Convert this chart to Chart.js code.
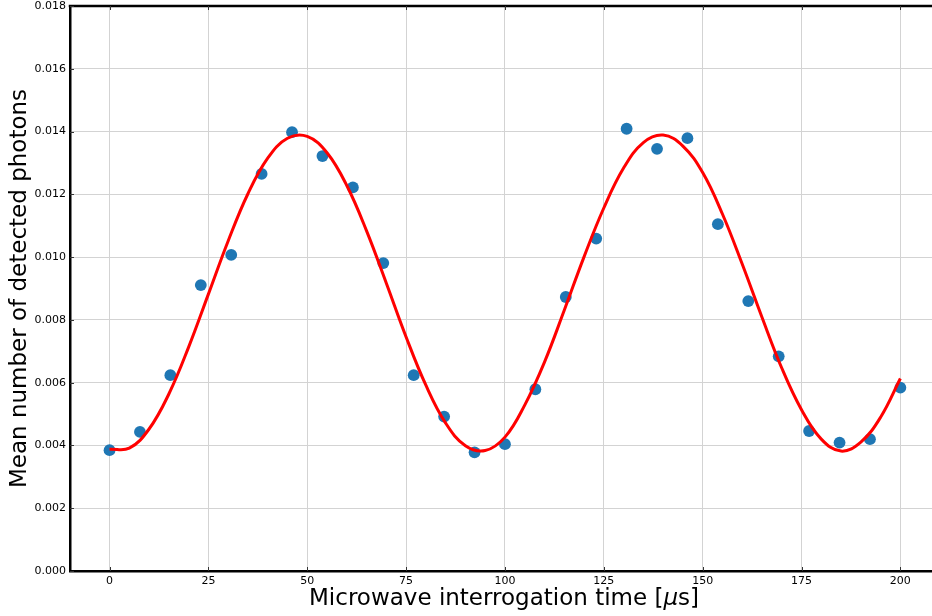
<!DOCTYPE html>
<html>
<head>
<meta charset="utf-8">
<script src="https://cdn.jsdelivr.net/npm/chart.js@4"></script>
<style>
html,body{margin:0;padding:0;background:#fff;}
#wrap{width:932px;height:616px;}
</style>
</head>
<body>
<div id="wrap"><canvas id="c" width="932" height="616"></canvas></div>
<script>
// Tick values
const xTicks = [0, 25, 50, 75, 100, 125, 150, 175, 200];
const yTicks = [0, 0.002, 0.004, 0.006, 0.008, 0.010, 0.012, 0.014, 0.016, 0.018];

// Measured data (scatter)
const timeUs = [0, 7.69, 15.38, 23.08, 30.77, 38.46, 46.15, 53.85, 61.54, 69.23, 76.92, 84.62, 92.31, 100,
  107.69, 115.38, 123.08, 130.77, 138.46, 146.15, 153.85, 161.54, 169.23, 176.92, 184.62, 192.31, 200];
const photons = [0.00385, 0.00443, 0.00624, 0.00911, 0.01007, 0.01265, 0.01398, 0.01322, 0.01222, 0.00981,
  0.00624, 0.00492, 0.00378, 0.00404, 0.00579, 0.00873, 0.01059, 0.01409, 0.01345, 0.01379, 0.01105,
  0.00860, 0.00684, 0.00446, 0.00409, 0.00420, 0.00584];

// Fit curve
const fitTime = [0, 5, 10, 15, 20, 25, 30, 35, 40, 45, 50, 55, 60, 65, 70, 75, 80, 85, 90, 95, 100,
  105, 110, 115, 120, 125, 130, 135, 140, 145, 150, 155, 160, 165, 170, 175, 180, 185, 190, 195, 200];
const fitPhotons = [0.003877, 0.003913, 0.004524, 0.005639, 0.007132, 0.008821, 0.010515, 0.012019, 0.013151,
  0.013785, 0.013845, 0.013324, 0.012280, 0.010836, 0.009168, 0.007456, 0.005918, 0.004711, 0.003993,
  0.003837, 0.004265, 0.005286, 0.006656, 0.008307, 0.010008, 0.011565, 0.012836, 0.013649, 0.013887,
  0.013538, 0.012693, 0.011373, 0.009779, 0.008084, 0.006467, 0.005137, 0.004202, 0.003820, 0.004109,
  0.004900, 0.006134];

const xTitleMain = 'Microwave interrogation time [';
const xTitleMu = 'μ';
const xTitleEnd = 's]';
const yTitle = 'Mean number of detected photons';

const FONT = "'DejaVu Sans', sans-serif";

const framePlugin = {
  id: 'frame',
  afterDraw(chart) {
    const ctx = chart.ctx;
    const a = chart.chartArea;
    const xs = chart.scales.x, ys = chart.scales.y;
    ctx.save();
    // top spine
    ctx.strokeStyle = '#000';
    ctx.lineWidth = 2.5;
    ctx.beginPath();
    ctx.moveTo(a.left - 1.25, a.top);
    ctx.lineTo(chart.width, a.top);
    ctx.stroke();
    // inward tick marks
    ctx.lineWidth = 1;
    ctx.strokeStyle = '#333';
    xs.ticks.forEach(t => {
      const px = Math.round(xs.getPixelForValue(t.value)) + 0.5;
      ctx.beginPath();
      ctx.moveTo(px, a.bottom); ctx.lineTo(px, a.bottom - 4);
      ctx.moveTo(px, a.top); ctx.lineTo(px, a.top + 4);
      ctx.stroke();
    });
    ys.ticks.forEach(t => {
      const py = Math.round(ys.getPixelForValue(t.value)) + 0.5;
      ctx.beginPath();
      ctx.moveTo(a.left, py); ctx.lineTo(a.left + 4, py);
      ctx.stroke();
    });
    // x axis title with italic mu
    ctx.fillStyle = '#000';
    ctx.textBaseline = 'middle';
    ctx.textAlign = 'left';
    const normal = "23px " + FONT;
    const ital = "italic 23px " + FONT;
    ctx.font = normal;
    const w1 = ctx.measureText(xTitleMain).width;
    const w3 = ctx.measureText(xTitleEnd).width;
    ctx.font = ital;
    const w2 = ctx.measureText(xTitleMu).width;
    const total = w1 + w2 + w3;
    const cx = (a.left + a.right) / 2 + 3;
    let x0 = cx - total / 2;
    const y0 = 599;
    ctx.font = normal; ctx.fillText(xTitleMain, x0, y0);
    ctx.font = ital; ctx.fillText(xTitleMu, x0 + w1, y0);
    ctx.font = normal; ctx.fillText(xTitleEnd, x0 + w1 + w2, y0);
    ctx.restore();
  }
};

new Chart(document.getElementById('c'), {
  type: 'scatter',
  data: {
    datasets: [
      {
        type: 'line',
        label: 'Fit',
        data: fitTime.map((t, i) => ({x: t, y: fitPhotons[i]})),
        borderColor: '#ff0000',
        borderWidth: 3,
        pointRadius: 0,
        fill: false,
        tension: 0.4,
        order: 0
      },
      {
        label: 'Data',
        data: timeUs.map((t, i) => ({x: t, y: photons[i]})),
        backgroundColor: '#1f77b4',
        borderColor: '#1f77b4',
        borderWidth: 0,
        pointRadius: 5.9,
        pointHoverRadius: 5.9,
        order: 1
      }
    ]
  },
  options: {
    responsive: false,
    animation: false,
    layout: {autoPadding: false, padding: {top: 6, right: 0, left: 0, bottom: 0}},
    plugins: {legend: {display: false}, tooltip: {enabled: false}},
    scales: {
      x: {
        type: 'linear',
        min: -10,
        max: 208,
        afterBuildTicks: s => { s.ticks = xTicks.map(v => ({value: v})); },
        afterFit: s => { s.height = 45; s.paddingLeft = 0; s.paddingRight = 0; },
        grid: {color: '#d3d3d3', lineWidth: 1, drawTicks: false},
        border: {color: '#000', width: 2.5},
        ticks: {color: '#000', padding: 4, font: {family: FONT, size: 11}, maxRotation: 0,
          callback: v => String(v)}
      },
      y: {
        type: 'linear',
        min: 0,
        max: 0.018,
        afterBuildTicks: s => { s.ticks = yTicks.map(v => ({value: v})); },
        afterFit: s => { s.width = 70; s.paddingTop = 0; s.paddingBottom = 0; },
        grid: {color: '#d3d3d3', lineWidth: 1, drawTicks: false},
        border: {color: '#000', width: 2.5},
        ticks: {color: '#000', padding: 4, font: {family: FONT, size: 11},
          callback: v => Number(v).toFixed(3)},
        title: {display: true, text: yTitle, color: '#000', font: {family: FONT, size: 23},
          padding: {top: 6, bottom: 0}}
      }
    }
  },
  plugins: [framePlugin]
});
</script>
</body>
</html>
